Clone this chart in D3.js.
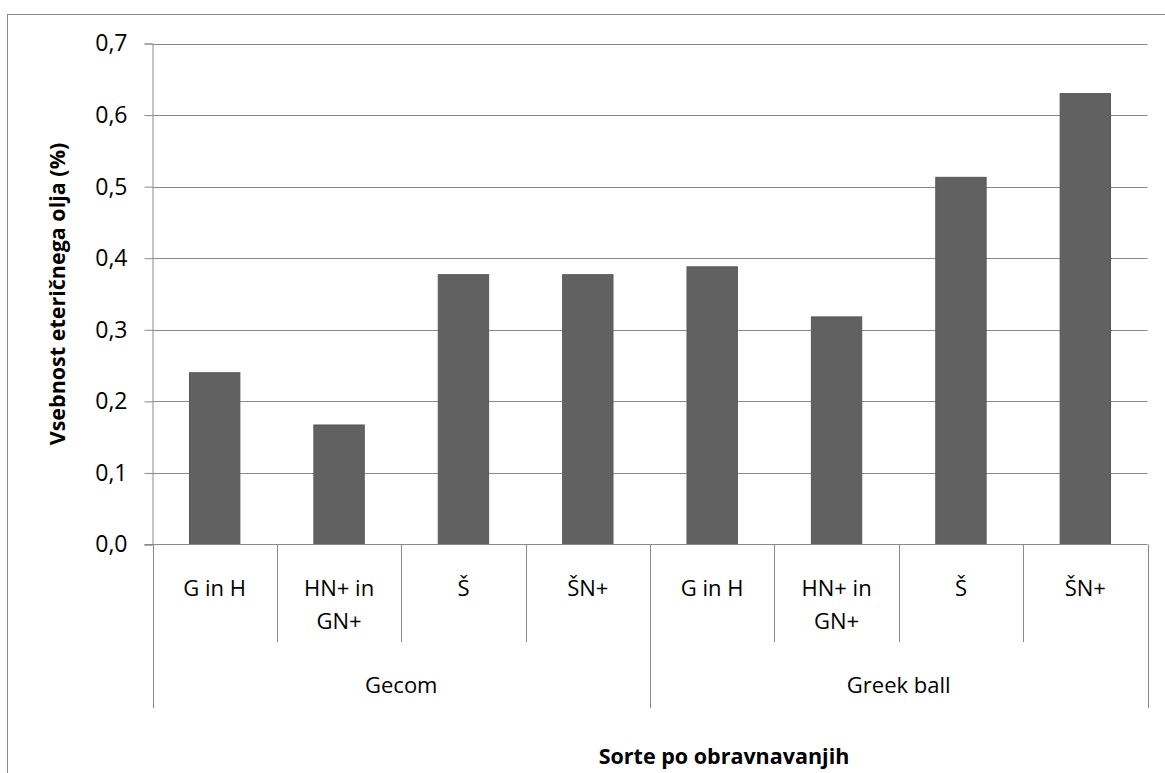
<!DOCTYPE html>
<html>
<head>
<meta charset="utf-8">
<script src="https://cdn.jsdelivr.net/npm/d3@7"></script>
<style>
  html, body { margin: 0; padding: 0; background: #fff; }
  svg { display: block; }
  text { font-family: "Open Sans", "Noto Sans", sans-serif; fill: #000; }
</style>
</head>
<body>
<svg id="chart" width="1165" height="773"></svg>
<script>
// Essential oil content by variety and treatment
const groups = ["Gecom", "Greek ball"];
const treatments = [["G in H"], ["HN+ in", "GN+"], ["Š"], ["ŠN+"]];
const valuesGecom = [0.24, 0.167, 0.377, 0.377];
const valuesGreekBall = [0.388, 0.318, 0.513, 0.630];
const yTicks = [0, 0.1, 0.2, 0.3, 0.4, 0.5, 0.6, 0.7];
const yTitle = "Vsebnost eteričnega olja (%)";
const xTitle = "Sorte po obravnavanjih";

// Flatten into one row per bar
const rows = [];
[valuesGecom, valuesGreekBall].forEach((vals, gi) => {
  vals.forEach((v, ti) => rows.push({ key: gi + "-" + ti, group: groups[gi], label: treatments[ti], value: v }));
});

const svg = d3.select("#chart");
const plotLeft = 152.5, plotRight = 1147.5, plotTop = 43.5, plotBottom = 544.5;
const gridColor = "#8a8a8a";

// Outer frame (continues past the right and bottom edges)
svg.append("rect")
  .attr("x", 7.5).attr("y", 14.5)
  .attr("width", 1440).attr("height", 800)
  .attr("fill", "none").attr("stroke", gridColor).attr("stroke-width", 1);

const y = d3.scaleLinear().domain([0, 0.7]).range([plotBottom, plotTop]);
const xCat = d3.scaleBand().domain(rows.map(d => d.key)).range([plotLeft, plotRight]);
const xBar = d3.scaleBand().domain(rows.map(d => d.key)).range([plotLeft, plotRight])
  .paddingInner(0.595).paddingOuter(0.2975);
const xGroup = d3.scaleBand().domain(groups).range([plotLeft, plotRight]);

// Horizontal gridlines
svg.append("g").selectAll("line").data(yTicks.filter(t => t > 0)).join("line")
  .attr("x1", plotLeft).attr("x2", plotRight)
  .attr("y1", d => Math.round(y(d)) + 0.5).attr("y2", d => Math.round(y(d)) + 0.5)
  .attr("stroke", gridColor).attr("stroke-width", 1);

// Y axis with comma decimal labels
const fmt = d => d3.format(".1f")(d).replace(".", ",");
const yAxis = svg.append("g")
  .attr("transform", `translate(${plotLeft},0)`)
  .call(d3.axisLeft(y).tickValues(yTicks).tickFormat(fmt).tickSize(8).tickPadding(17));
yAxis.select(".domain").attr("stroke", gridColor);
yAxis.selectAll(".tick line").attr("stroke", gridColor);
yAxis.selectAll(".tick text")
  .style("font-size", "23px").attr("fill", "#000");

// Bars
svg.append("g").selectAll("rect").data(rows).join("rect")
  .attr("x", d => xBar(d.key))
  .attr("y", d => y(d.value))
  .attr("width", xBar.bandwidth())
  .attr("height", d => plotBottom - y(d.value))
  .attr("fill", "#616161")
  .attr("stroke", "#585858").attr("stroke-width", 1);

// X axis baseline
svg.append("line")
  .attr("x1", plotLeft - 8).attr("x2", plotRight)
  .attr("y1", plotBottom).attr("y2", plotBottom)
  .attr("stroke", gridColor).attr("stroke-width", 1);

// Inner category separators
const innerBottom = 642, outerBottom = 708;
const bounds = rows.map(d => xCat(d.key)).concat([plotRight]);
svg.append("g").selectAll("line").data(bounds).join("line")
  .attr("x1", d => Math.round(d) + 0.5).attr("x2", d => Math.round(d) + 0.5)
  .attr("y1", plotBottom).attr("y2", innerBottom)
  .attr("stroke", gridColor).attr("stroke-width", 1);

// Group separators
const gBounds = groups.map(g => xGroup(g)).concat([plotRight]);
svg.append("g").selectAll("line").data(gBounds).join("line")
  .attr("x1", d => Math.round(d) + 0.5).attr("x2", d => Math.round(d) + 0.5)
  .attr("y1", innerBottom).attr("y2", outerBottom)
  .attr("stroke", gridColor).attr("stroke-width", 1);

// Treatment labels (wrapped lines)
const catLabels = svg.append("g").selectAll("text").data(rows).join("text")
  .attr("x", d => xCat(d.key) + xCat.bandwidth() / 2)
  .attr("y", 596)
  .attr("text-anchor", "middle")
  .style("font-size", "22px");
catLabels.selectAll("tspan").data(d => d.label).join("tspan")
  .attr("x", function () { return d3.select(this.parentNode).attr("x"); })
  .attr("dy", (d, i) => i === 0 ? 0 : 32.5)
  .text(d => d);

// Group labels
svg.append("g").selectAll("text").data(groups).join("text")
  .attr("x", d => xGroup(d) + xGroup.bandwidth() / 2)
  .attr("y", 693)
  .attr("text-anchor", "middle")
  .style("font-size", "22px")
  .text(d => d);

// Axis titles
svg.append("text")
  .attr("transform", `translate(65,${(plotTop + plotBottom) / 2}) rotate(-90)`)
  .attr("text-anchor", "middle")
  .style("font-size", "21.5px").style("font-weight", "bold")
  .text(yTitle);

svg.append("text")
  .attr("x", 724).attr("y", 764)
  .attr("text-anchor", "middle")
  .style("font-size", "21.5px").style("font-weight", "bold")
  .text(xTitle);
</script>
</body>
</html>
